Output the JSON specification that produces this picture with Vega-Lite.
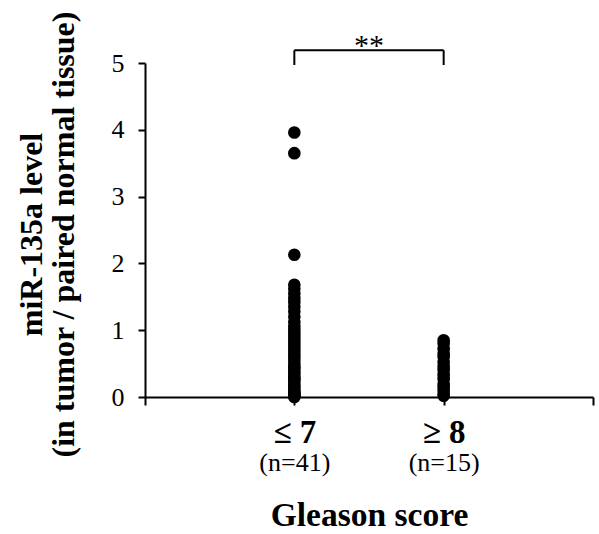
{
  "$schema": "https://vega.github.io/schema/vega-lite/v6.json",
  "width": 448,
  "height": 334,
  "autosize": "none",
  "padding": {"left": 145, "top": 63, "right": 6, "bottom": 137},
  "background": "white",
  "config": {
    "view": {"stroke": null},
    "font": "Liberation Serif",
    "axis": {
      "grid": false,
      "domainColor": "black",
      "domainWidth": 2,
      "tickColor": "black",
      "tickWidth": 2,
      "labelColor": "black",
      "titleColor": "black",
      "labelFont": "Liberation Serif",
      "titleFont": "Liberation Serif"
    }
  },
  "datasets": {
    "points": [
      {"group": "≤ 7", "group_index": 1, "level": 3.96},
      {"group": "≤ 7", "group_index": 1, "level": 3.65},
      {"group": "≤ 7", "group_index": 1, "level": 2.13},
      {"group": "≤ 7", "group_index": 1, "level": 1.68},
      {"group": "≤ 7", "group_index": 1, "level": 1.62},
      {"group": "≤ 7", "group_index": 1, "level": 1.55},
      {"group": "≤ 7", "group_index": 1, "level": 1.48},
      {"group": "≤ 7", "group_index": 1, "level": 1.42},
      {"group": "≤ 7", "group_index": 1, "level": 1.35},
      {"group": "≤ 7", "group_index": 1, "level": 1.28},
      {"group": "≤ 7", "group_index": 1, "level": 1.2},
      {"group": "≤ 7", "group_index": 1, "level": 1.12},
      {"group": "≤ 7", "group_index": 1, "level": 1.05},
      {"group": "≤ 7", "group_index": 1, "level": 1.0},
      {"group": "≤ 7", "group_index": 1, "level": 0.95},
      {"group": "≤ 7", "group_index": 1, "level": 0.9},
      {"group": "≤ 7", "group_index": 1, "level": 0.85},
      {"group": "≤ 7", "group_index": 1, "level": 0.8},
      {"group": "≤ 7", "group_index": 1, "level": 0.75},
      {"group": "≤ 7", "group_index": 1, "level": 0.7},
      {"group": "≤ 7", "group_index": 1, "level": 0.65},
      {"group": "≤ 7", "group_index": 1, "level": 0.6},
      {"group": "≤ 7", "group_index": 1, "level": 0.55},
      {"group": "≤ 7", "group_index": 1, "level": 0.5},
      {"group": "≤ 7", "group_index": 1, "level": 0.45},
      {"group": "≤ 7", "group_index": 1, "level": 0.42},
      {"group": "≤ 7", "group_index": 1, "level": 0.38},
      {"group": "≤ 7", "group_index": 1, "level": 0.35},
      {"group": "≤ 7", "group_index": 1, "level": 0.3},
      {"group": "≤ 7", "group_index": 1, "level": 0.27},
      {"group": "≤ 7", "group_index": 1, "level": 0.24},
      {"group": "≤ 7", "group_index": 1, "level": 0.2},
      {"group": "≤ 7", "group_index": 1, "level": 0.17},
      {"group": "≤ 7", "group_index": 1, "level": 0.14},
      {"group": "≤ 7", "group_index": 1, "level": 0.11},
      {"group": "≤ 7", "group_index": 1, "level": 0.08},
      {"group": "≤ 7", "group_index": 1, "level": 0.06},
      {"group": "≤ 7", "group_index": 1, "level": 0.04},
      {"group": "≤ 7", "group_index": 1, "level": 0.02},
      {"group": "≤ 7", "group_index": 1, "level": 0.01},
      {"group": "≤ 7", "group_index": 1, "level": 0.0},
      {"group": "≥ 8", "group_index": 2, "level": 0.85},
      {"group": "≥ 8", "group_index": 2, "level": 0.8},
      {"group": "≥ 8", "group_index": 2, "level": 0.72},
      {"group": "≥ 8", "group_index": 2, "level": 0.65},
      {"group": "≥ 8", "group_index": 2, "level": 0.6},
      {"group": "≥ 8", "group_index": 2, "level": 0.52},
      {"group": "≥ 8", "group_index": 2, "level": 0.45},
      {"group": "≥ 8", "group_index": 2, "level": 0.4},
      {"group": "≥ 8", "group_index": 2, "level": 0.33},
      {"group": "≥ 8", "group_index": 2, "level": 0.27},
      {"group": "≥ 8", "group_index": 2, "level": 0.2},
      {"group": "≥ 8", "group_index": 2, "level": 0.15},
      {"group": "≥ 8", "group_index": 2, "level": 0.1},
      {"group": "≥ 8", "group_index": 2, "level": 0.05},
      {"group": "≥ 8", "group_index": 2, "level": 0.02}
    ],
    "groups": [
      {"group": "≤ 7", "group_index": 1, "n": 41},
      {"group": "≥ 8", "group_index": 2, "n": 15}
    ],
    "bracket": [
      {"from": 1, "to": 2, "mid": 1.5, "top": 5.19, "end": 4.97, "label": "**", "label_y": 5.12}
    ]
  },
  "layer": [
    {
      "data": {"name": "points"},
      "mark": {"type": "point", "filled": true, "color": "black", "opacity": 1, "size": 160},
      "encoding": {
        "x": {
          "field": "group_index",
          "type": "quantitative",
          "scale": {"domain": [0, 3], "nice": false, "zero": false},
          "axis": {
            "orient": "bottom",
            "values": [0, 1, 2, 3],
            "tickSize": 8,
            "labelExpr": "datum.value == 1 ? '≤ 7' : datum.value == 2 ? '≥ 8' : ''",
            "labelFontSize": 33,
            "labelFontWeight": "bold",
            "labelPadding": 11,
            "labelFlush": false,
            "labelOverlap": false,
            "title": null
          }
        },
        "y": {
          "field": "level",
          "type": "quantitative",
          "scale": {"domain": [0, 5], "nice": false},
          "axis": {
            "values": [0, 1, 2, 3, 4, 5],
            "tickSize": 7,
            "labelFontSize": 26,
            "labelPadding": 14,
            "labelFlush": false,
            "title": ["miR-135a level", "(in tumor / paired normal tissue)"],
            "titleFontSize": 32,
            "titleFontWeight": "bold",
            "titleLineHeight": 32,
            "titlePadding": 31,
            "titleY": 171
          }
        }
      }
    },
    {
      "data": {"name": "groups"},
      "mark": {"type": "point", "opacity": 0},
      "encoding": {
        "x": {
          "field": "group_index",
          "type": "quantitative",
          "axis": {
            "orient": "bottom",
            "values": [1, 2],
            "domain": false,
            "ticks": false,
            "labelExpr": "datum.value == 1 ? '(n=41)' : '(n=15)'",
            "labelFontSize": 26,
            "labelFontWeight": "normal",
            "labelPadding": 52,
            "labelFlush": false,
            "labelOverlap": false,
            "title": "Gleason score",
            "titleFontSize": 33.5,
            "titleFontWeight": "bold",
            "titlePadding": 24
          }
        }
      }
    },
    {
      "data": {"name": "bracket"},
      "mark": {"type": "rule", "color": "black", "strokeWidth": 2},
      "encoding": {
        "x": {"field": "from", "type": "quantitative", "axis": null},
        "x2": {"field": "to"},
        "y": {"field": "top", "type": "quantitative", "axis": null}
      }
    },
    {
      "data": {"name": "bracket"},
      "mark": {"type": "rule", "color": "black", "strokeWidth": 2},
      "encoding": {
        "x": {"field": "from", "type": "quantitative", "axis": null},
        "y": {"field": "top", "type": "quantitative", "axis": null},
        "y2": {"field": "end"}
      }
    },
    {
      "data": {"name": "bracket"},
      "mark": {"type": "rule", "color": "black", "strokeWidth": 2},
      "encoding": {
        "x": {"field": "to", "type": "quantitative", "axis": null},
        "y": {"field": "top", "type": "quantitative", "axis": null},
        "y2": {"field": "end"}
      }
    },
    {
      "data": {"name": "bracket"},
      "mark": {"type": "text", "color": "black", "fontSize": 30, "font": "Liberation Serif", "baseline": "alphabetic", "align": "center"},
      "encoding": {
        "x": {"field": "mid", "type": "quantitative", "axis": null},
        "y": {"field": "label_y", "type": "quantitative", "axis": null},
        "text": {"field": "label"}
      }
    }
  ],
  "resolve": {"axis": {"x": "independent", "y": "independent"}}
}
